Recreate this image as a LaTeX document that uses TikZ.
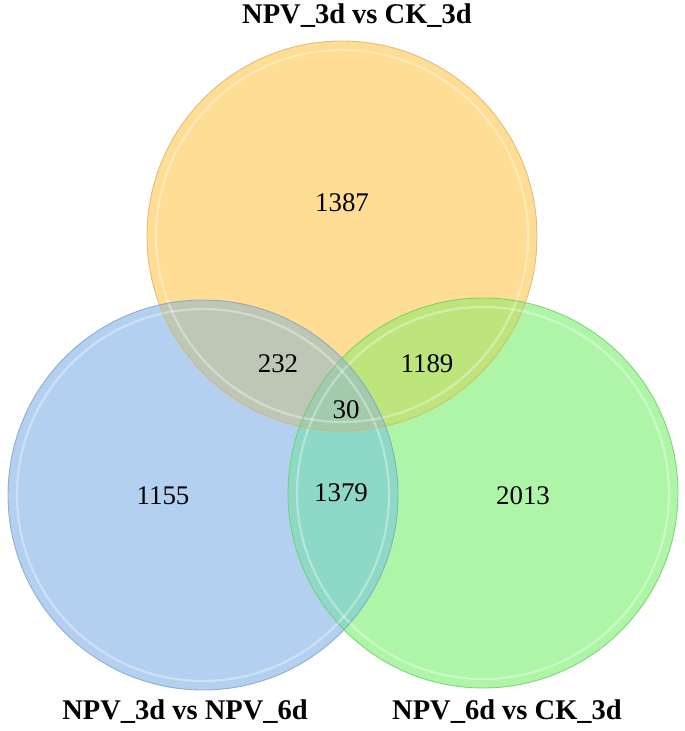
\documentclass[tikz,border=0pt]{standalone}
\usepackage{fontspec}
\setmainfont{Liberation Serif}
\begin{document}
\begin{tikzpicture}[x=1bp,y=-1bp,
  num/.style={font=\fontsize{27}{30}\selectfont, inner sep=0pt},
  ttl/.style={font=\bfseries\fontsize{28.6}{32}\selectfont, inner sep=0pt},
  ring/.style={line width=2.2pt, white, opacity=0.35}]
\useasboundingbox (0,0) rectangle (685,731);
\def\R{195}
\coordinate (co) at (342,236);
\coordinate (cb) at (203,495);
\coordinate (cg) at (483,493);
% base fills
\fill[fill={rgb,255:red,255;green,221;blue,149}] (co) circle (\R);
\fill[fill={rgb,255:red,180;green,208;blue,240}] (cb) circle (\R);
\fill[fill={rgb,255:red,174;green,245;blue,168}] (cg) circle (\R);
% pairwise overlaps
\begin{scope}\clip (co) circle (\R);
  \fill[fill={rgb,255:red,190;green,199;blue,182}] (cb) circle (\R);
  \fill[fill={rgb,255:red,190;green,229;blue,124}] (cg) circle (\R);
\end{scope}
\begin{scope}\clip (cb) circle (\R);
  \fill[fill={rgb,255:red,141;green,217;blue,197}] (cg) circle (\R);
\end{scope}
\begin{scope}\clip (co) circle (\R);\clip (cb) circle (\R);
  \fill[fill={rgb,255:red,162;green,202;blue,172}] (cg) circle (\R);
\end{scope}
% highlight rings
\draw[ring] (co) circle (\R-9);
\draw[ring] (cb) circle (\R-9);
\draw[ring] (cg) circle (\R-9);
% outlines
\draw[line width=0.9pt, color={rgb,255:red,214;green,180;blue,105}, opacity=0.8] (co) circle (\R);
\draw[line width=0.9pt, color={rgb,255:red,130;green,160;blue,196}, opacity=0.8] (cb) circle (\R);
\draw[line width=0.9pt, color={rgb,255:red,110;green,205;blue,100}, opacity=0.8] (cg) circle (\R);
% numbers
\node[num] (n1) at (342,203) {1387};
\node[num] (n2) at (278,364) {232};
\node[num] (n3) at (427,364) {1189};
\node[num] (n4) at (346,410) {30};
\node[num] (n5) at (163,496) {1155};
\node[num] (n6) at (341,493) {1379};
\node[num] (n7) at (523,496) {2013};
% titles
\node[ttl] (t1) at (357,16) {NPV\_3d vs CK\_3d};
\node[ttl] (t2) at (185,712) {NPV\_3d vs NPV\_6d};
\node[ttl] (t3) at (507,712) {NPV\_6d vs CK\_3d};
\end{tikzpicture}
\end{document}
